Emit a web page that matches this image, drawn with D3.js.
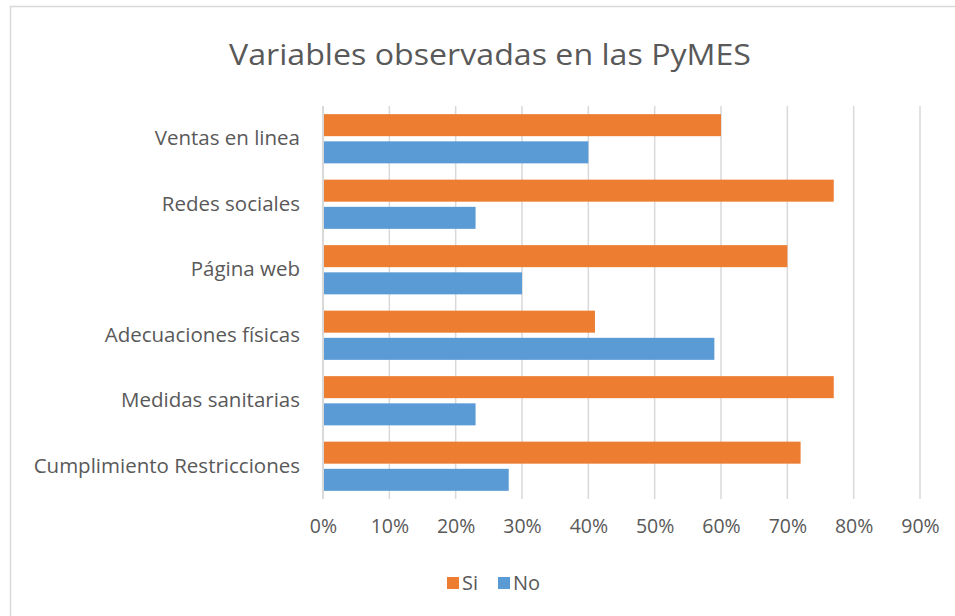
<!DOCTYPE html>
<html>
<head>
<meta charset="utf-8">
<script src="https://cdn.jsdelivr.net/npm/d3@7"></script>
<style>
  body { margin: 0; background: #fff; }
  svg { display: block; font-family: "Open Sans", Lato, sans-serif; }
</style>
</head>
<body>
<div id="chart"></div>
<script>
const categories = ["Ventas en linea", "Redes sociales", "Página web", "Adecuaciones físicas", "Medidas sanitarias", "Cumplimiento Restricciones"];
const seriesNames = ["Si", "No"];
const siValues = [0.60, 0.77, 0.70, 0.41, 0.77, 0.72];
const noValues = [0.40, 0.23, 0.30, 0.59, 0.23, 0.28];
const xTicks = [0, 0.1, 0.2, 0.3, 0.4, 0.5, 0.6, 0.7, 0.8, 0.9];
const colors = { Si: "#ED7D31", No: "#5B9BD5" };

const width = 955, height = 616;
const margin = { top: 106, right: 35, bottom: 117, left: 323 };
const textColor = "#595959";
const gridColor = "#D9D9D9";
const labelFont = "'Open Sans', sans-serif";

const svg = d3.select("#chart")
    .append("svg")
    .attr("width", width)
    .attr("height", height);

// outer chart border (runs off the right and bottom edges)
svg.append("rect")
    .attr("x", 10.5).attr("y", 6.5)
    .attr("width", 960).attr("height", 620)
    .attr("fill", "none")
    .attr("stroke", gridColor)
    .attr("stroke-width", 1.5);

svg.append("text")
    .attr("x", 490)
    .attr("y", 65)
    .attr("text-anchor", "middle")
    .attr("fill", textColor)
    .attr("font-size", 30)
    .attr("textLength", 522)
    .attr("lengthAdjust", "spacingAndGlyphs")
    .text("Variables observadas en las PyMES");

const x = d3.scaleLinear()
    .domain([0, 0.9])
    .range([margin.left, width - margin.right]);

const y0 = d3.scaleBand()
    .domain(categories)
    .range([margin.top, height - margin.bottom]);

const y1 = d3.scaleBand()
    .domain(seriesNames)
    .range([0, y0.bandwidth()])
    .paddingInner(0.19)
    .paddingOuter(0.3);

// gridlines
svg.append("g")
    .selectAll("line")
    .data(xTicks.slice(1))
    .join("line")
    .attr("x1", d => x(d)).attr("x2", d => x(d))
    .attr("y1", margin.top).attr("y2", height - margin.bottom)
    .attr("stroke", gridColor)
    .attr("stroke-width", 1.5);

// bars
const rows = categories.map((c, i) => ({ cat: c, Si: siValues[i], No: noValues[i] }));
const groups = svg.append("g")
    .selectAll("g")
    .data(rows)
    .join("g")
    .attr("transform", d => `translate(0,${y0(d.cat)})`);

groups.selectAll("rect")
    .data(d => seriesNames.map(s => ({ key: s, value: d[s] })))
    .join("rect")
    .attr("x", x(0) + 1)
    .attr("y", d => y1(d.key))
    .attr("width", d => x(d.value) - x(0) - 1)
    .attr("height", y1.bandwidth())
    .attr("fill", d => colors[d.key]);

// vertical axis line
svg.append("line")
    .attr("x1", x(0)).attr("x2", x(0))
    .attr("y1", margin.top).attr("y2", height - margin.bottom)
    .attr("stroke", gridColor)
    .attr("stroke-width", 2);

// category labels
const yAxis = svg.append("g")
    .attr("transform", `translate(${x(0) - 23},0)`)
    .call(d3.axisLeft(y0).tickSize(0).tickPadding(0));
yAxis.select(".domain").remove();
yAxis.selectAll("text")
    .attr("fill", textColor)
    .attr("font-size", 20.5)
    .attr("font-family", labelFont);

// x tick labels
const xAxis = svg.append("g")
    .attr("transform", `translate(0,${height - margin.bottom})`)
    .call(d3.axisBottom(x).tickValues(xTicks).tickFormat(d3.format(".0%")).tickSize(0).tickPadding(20));
xAxis.select(".domain").remove();
xAxis.selectAll("text")
    .attr("fill", textColor)
    .attr("font-size", 19.5)
    .attr("font-family", labelFont);

// legend
const legendItems = [{ key: "Si", x: 447 }, { key: "No", x: 498 }];
const legend = svg.append("g");
legendItems.forEach(item => {
    legend.append("rect")
        .attr("x", item.x).attr("y", 577)
        .attr("width", 12).attr("height", 12)
        .attr("fill", colors[item.key]);
    legend.append("text")
        .attr("x", item.x + 15).attr("y", 590)
        .attr("fill", textColor)
        .attr("font-size", 20)
        .text(item.key);
});
</script>
</body>
</html>
